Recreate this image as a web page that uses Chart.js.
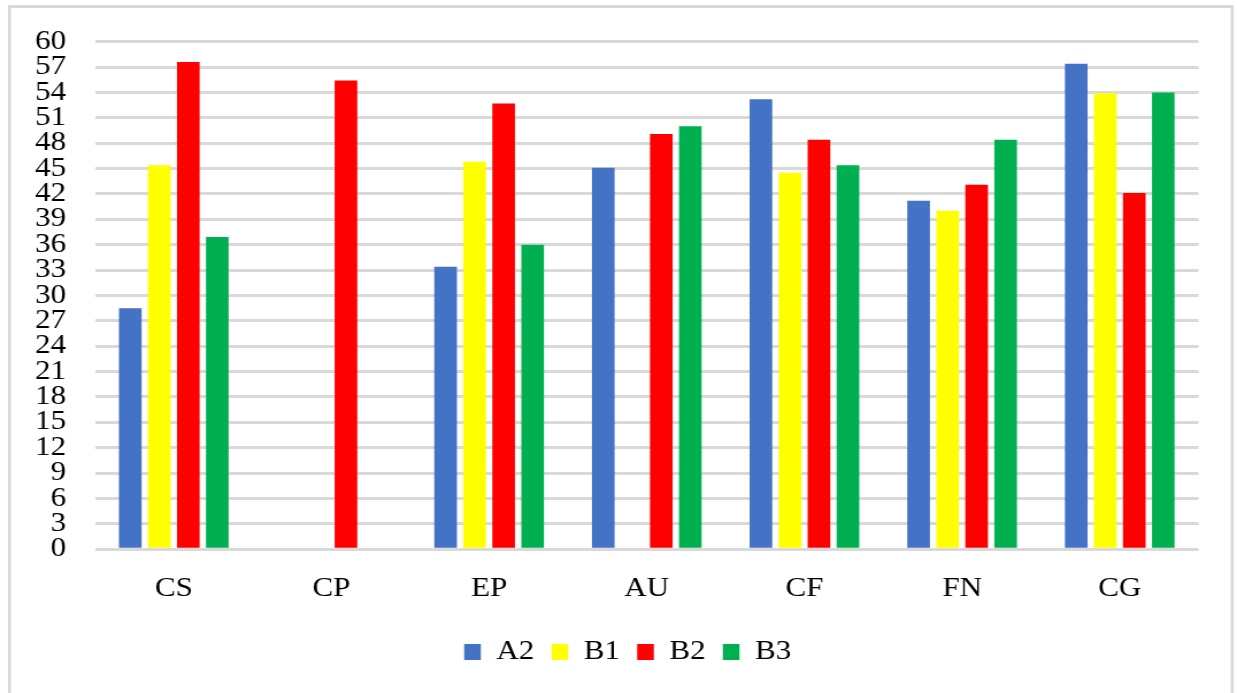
<!DOCTYPE html>
<html>
<head>
<meta charset="utf-8">
<script src="https://cdn.jsdelivr.net/npm/chart.js@4/dist/chart.umd.min.js"></script>
<style>
  html, body { margin: 0; padding: 0; background: #ffffff; overflow: hidden; }
  #wrap { width: 1237px; height: 693px; position: relative; overflow: hidden; }
  /* chart is laid out on a narrower canvas and widened horizontally */
  #chart { position: absolute; left: 0; top: 0; transform-origin: 0 0; }
</style>
</head>
<body>
<div id="wrap"><canvas id="chart"></canvas></div>
<script>
const categories = ['CS', 'CP', 'EP', 'AU', 'CF', 'FN', 'CG'];
const seriesNames = ['A2', 'B1', 'B2', 'B3'];
const valuesA2 = [28.5, null, 33.4, 45.1, 53.2, 41.2, 57.4];
const valuesB1 = [45.4, null, 45.8, null, 44.5, 40.0, 53.9];
const valuesB2 = [57.6, 55.4, 52.7, 49.1, 48.4, 43.1, 42.1];
const valuesB3 = [36.9, null, 36.0, 50.0, 45.4, 48.4, 54.0];
const yTicks = [0, 3, 6, 9, 12, 15, 18, 21, 24, 27, 30, 33, 36, 39, 42, 45, 48, 51, 54, 57, 60];

const colors = ['#4472C4', '#FFFF00', '#FF0000', '#00B050'];
const seriesValues = [valuesA2, valuesB1, valuesB2, valuesB3];

const STRETCH = 1.15;
const W = 1237, H = 693;
const CW = Math.round(W / STRETCH);

const canvas = document.getElementById('chart');
canvas.width = CW;
canvas.height = H;
canvas.style.width = CW + 'px';
canvas.style.height = H + 'px';
canvas.style.transform = 'scaleX(' + (W / CW) + ')';

const serif = 'Liberation Serif, Times New Roman, serif';

// light grey frame on the left, top and right edges
const frame = {
  id: 'frame',
  beforeDraw(chart) {
    const ctx = chart.ctx;
    ctx.save();
    ctx.fillStyle = '#ffffff';
    ctx.fillRect(0, 0, chart.width, chart.height);
    ctx.fillStyle = '#d9d9d9';
    ctx.fillRect(7, 5, 2.6, chart.height);
    ctx.fillRect(7, 5, chart.width - 10, 3);
    ctx.fillRect(chart.width - 5.5, 5, 2.6, chart.height);
    ctx.restore();
  }
};

// centre the legend under the plot rather than the whole canvas
const legendShift = {
  id: 'legendShift',
  afterLayout(chart) {
    if (chart.legend) chart.legend.left += 49.4;
  }
};

new Chart(canvas, {
  type: 'bar',
  data: {
    labels: categories,
    datasets: seriesNames.map((name, i) => ({
      label: name,
      data: seriesValues[i],
      backgroundColor: colors[i],
      borderWidth: 0,
      categoryPercentage: 0.736,
      barPercentage: 0.78
    }))
  },
  options: {
    responsive: false,
    animation: false,
    devicePixelRatio: 1,
    layout: { padding: { left: 0, right: 33.4, top: 41.7, bottom: 17.5 } },
    plugins: {
      legend: {
        position: 'bottom',
        labels: {
          boxWidth: 14.5,
          boxHeight: 16,
          padding: 15,
          color: '#000000',
          font: { family: serif, size: 27 }
        }
      },
      tooltip: { enabled: false }
    },
    scales: {
      x: {
        grid: { display: false, drawTicks: false },
        border: { display: false },
        ticks: { color: '#000000', padding: 23.5, font: { family: serif, size: 27 } },
        afterFit(scale) { scale.height = 74.3; }
      },
      y: {
        min: 0,
        max: 60,
        afterBuildTicks(scale) { scale.ticks = yTicks.map(v => ({ value: v })); },
        grid: { color: '#d9d9d9', lineWidth: 3, drawTicks: false },
        border: { display: false },
        ticks: { color: '#000000', padding: 25, autoSkip: false, font: { family: serif, size: 27 } },
        afterFit(scale) { scale.width = 82.6; }
      }
    }
  },
  plugins: [frame, legendShift]
});
</script>
</body>
</html>
